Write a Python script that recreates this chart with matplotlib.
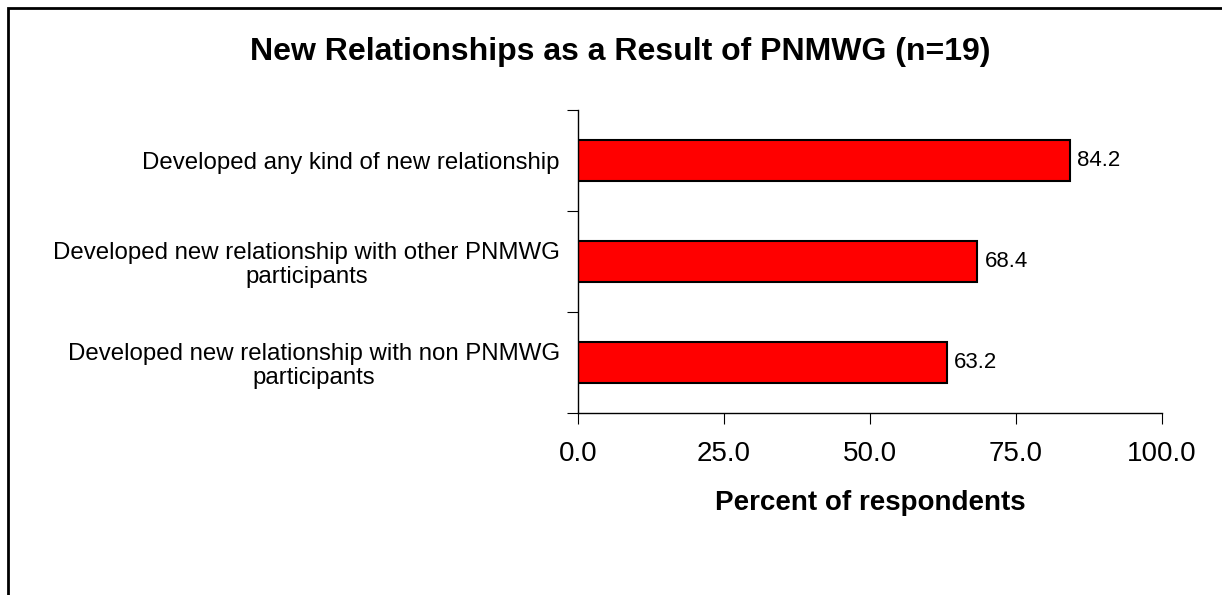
import matplotlib
matplotlib.use("Agg")
import matplotlib.pyplot as plt
from matplotlib.patches import Rectangle

plt.rcParams['font.family'] = ['Liberation Sans', 'DejaVu Sans']

# data
categories = ["Developed any kind of new relationship",
              "Developed new relationship with other PNMWG\nparticipants",
              "Developed new relationship with non PNMWG\nparticipants"]
values = [84.2, 68.4, 63.2]
xticks = [0, 25, 50, 75, 100]

W, H = 1222, 595
fig = plt.figure(figsize=(W / 100, H / 100), dpi=100)

# outer frame (only top and left edges visible in the picture)
fig.patches.append(Rectangle((8 / W, -0.1), 1.2, 1 - 8 / H + 0.1, transform=fig.transFigure,
                             fill=False, edgecolor='black', linewidth=2))

ax = fig.add_axes([578 / W, 1 - 413 / H, (1162 - 578) / W, (413 - 110) / H])

pos = list(range(len(values)))
ax.barh(pos, values, height=0.41, color='#ff0000', edgecolor='black', linewidth=1.5)
for p, v in zip(pos, values):
    ax.text(v + 1.2, p, f"{v:.1f}", va='center', ha='left', fontsize=16)

ax.set_ylim(len(values) - 0.5, -0.5)
ax.set_xlim(0, 100)
ax.set_yticks([p - 0.5 for p in pos] + [len(values) - 0.5])
ax.set_yticklabels([])
ax.set_yticks(pos, minor=True)
ax.set_yticklabels(categories, minor=True, fontsize=17.3, ha='right',
                   multialignment='center', linespacing=1.1)
ax.tick_params(axis='y', which='minor', length=0, pad=13)
ax.tick_params(axis='y', which='major', length=8, direction='out')
ax.set_xticks(xticks)
ax.set_xticklabels([f"{t:.1f}" for t in xticks], fontsize=20)
ax.tick_params(axis='x', length=8, direction='out', pad=12)

for s in ['top', 'right']:
    ax.spines[s].set_visible(False)
for s in ['left', 'bottom']:
    ax.spines[s].set_color('black')
    ax.spines[s].set_linewidth(1)

ax.set_xlabel("Percent of respondents", fontsize=20, fontweight='bold', labelpad=17)
fig.text(620 / W, 1 - 52 / H, "New Relationships as a Result of PNMWG (n=19)",
         ha='center', va='center', fontsize=23, fontweight='bold')

fig.savefig("out.png", dpi=100)
